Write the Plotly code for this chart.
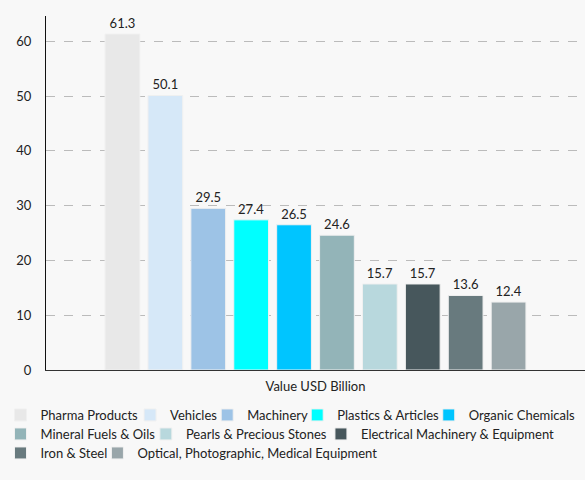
import plotly.graph_objects as go

category = ["Value USD Billion"]
products = [
    "Pharma Products", "Vehicles", "Machinery", "Plastics & Articles",
    "Organic Chemicals", "Mineral Fuels & Oils", "Pearls & Precious Stones",
    "Electrical Machinery & Equipment", "Iron & Steel",
    "Optical, Photographic, Medical Equipment",
]
values = [61.3, 50.1, 29.5, 27.4, 26.5, 24.6, 15.7, 15.7, 13.6, 12.4]
colors = [
    "#e8e8e8", "#d6e8f8", "#9dc3e6", "#00ffff", "#00c5ff",
    "#93b4b8", "#b8d8dd", "#47575c", "#687a7e", "#99a6aa",
]

# the legend wraps into three rows; one small legend per entry so the
# entries flow like the reference (pixel x of label start, row index)
legend_text_x = [36, 167, 245, 336, 469, 36, 183, 360, 36, 134]
legend_row = [0, 0, 0, 0, 0, 1, 1, 1, 2, 2]
row_top = [400, 419, 438]

W, H = 585, 480
ml, mr, mt, mb = 40, 0, 16, 110
pw, ph = W - ml - mr, H - mt - mb

fig = go.Figure()
legends = {}
for i, (name, v, c) in enumerate(zip(products, values, colors)):
    key = "legend" if i == 0 else f"legend{i + 1}"
    fig.add_trace(go.Bar(
        x=category, y=[v], name=name, legend=key,
        marker=dict(color=c, line=dict(color="#f0f0f0", width=1)),
        text=[f"{v:.1f}"], textposition="outside",
        textfont=dict(size=13, color="#222"),
        cliponaxis=False,
    ))
    legends[key] = dict(
        orientation="h", xanchor="left", yanchor="top",
        x=(legend_text_x[i] - 42 - ml) / pw,
        y=-(row_top[legend_row[i]] - (mt + ph)) / ph,
        font=dict(size=13, color="#222"), itemwidth=30,
        bgcolor="rgba(0,0,0,0)",
    )

fig.update_layout(
    width=W, height=H,
    margin=dict(l=ml, r=mr, t=mt, b=mb),
    paper_bgcolor="#f8f8f8", plot_bgcolor="#f8f8f8",
    font=dict(family="Lato", size=13, color="#222"),
    barmode="group", bargap=0.204, bargroupgap=0.19,
    showlegend=True,
    xaxis=dict(showgrid=False, showline=True, linecolor="#333", linewidth=1,
               ticks="outside", ticklen=4, tickcolor="rgba(0,0,0,0)",
               tickfont=dict(size=13)),
    yaxis=dict(range=[0, 64.6], dtick=10, showgrid=True, gridcolor="#bbb",
               griddash="dash", showline=True, linecolor="#111", linewidth=1,
               ticks="outside", ticklen=11, tickcolor="rgba(0,0,0,0)",
               zeroline=False, tickfont=dict(size=13)),
    **legends,
)

fig.write_html("out.html", config={"displayModeBar": False},
               post_script="document.body.style.margin='0';"
                           "document.body.style.background='#f8f8f8';")
